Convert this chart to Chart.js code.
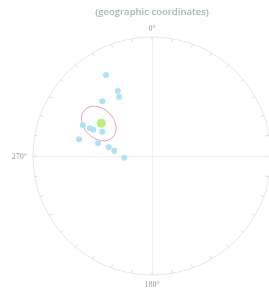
<!DOCTYPE html>
<html>
<head>
<meta charset="utf-8">
<script src="https://cdn.jsdelivr.net/npm/chart.js@4"></script>
<style>
  html, body { margin: 0; padding: 0; overflow: hidden; background: #fff; }
  #wrap { width: 280px; height: 293px; }
</style>
</head>
<body>
<div id="wrap"><canvas id="stereo" width="280" height="293"></canvas></div>
<script>
// directions, projected onto the unit circle (x = east, y = north)
const dirX = [-0.387, -0.288, -0.277, -0.418, -0.582, -0.521, -0.493, -0.418, -0.613, -0.454, -0.364, -0.317, -0.233];
const dirY = [0.681, 0.546, 0.496, 0.460, 0.261, 0.233, 0.221, 0.204, 0.140, 0.107, 0.073, 0.045, -0.014];
const meanX = [-0.426];
const meanY = [0.275];
// confidence ellipse: centre, semi axes (unit radius), tilt in degrees
const coneCentre = [-0.447, 0.273];
const coneAxes = [0.165, 0.124];
const coneTilt = 45;
const dirLabels = ['0°', '180°', '270°'];

const toPoints = function (xs, ys) {
  return xs.map((x, i) => ({ x: x, y: ys[i] }));
};

// net frame: circle, cross, 10 degree ticks, cone and labels
const net = {
  id: 'net',
  beforeDatasetsDraw(chart) {
    const { ctx, scales: { x, y } } = chart;
    const cx = x.getPixelForValue(0);
    const cy = y.getPixelForValue(0);
    const r = x.getPixelForValue(1) - cx;
    ctx.save();
    ctx.lineWidth = 1;
    ctx.strokeStyle = '#efefef';
    ctx.beginPath();
    ctx.moveTo(cx - r, cy + 0.5);
    ctx.lineTo(cx + r, cy + 0.5);
    ctx.moveTo(cx + 0.5, cy - r);
    ctx.lineTo(cx + 0.5, cy + r);
    ctx.stroke();

    ctx.strokeStyle = '#dbeaf1';
    ctx.beginPath();
    ctx.arc(cx, cy, r, 0, Math.PI * 2);
    ctx.stroke();

    ctx.strokeStyle = '#dedede';
    ctx.beginPath();
    for (let a = 0; a < 360; a += 10) {
      const t = a * Math.PI / 180;
      ctx.moveTo(cx + Math.sin(t) * r, cy - Math.cos(t) * r);
      ctx.lineTo(cx + Math.sin(t) * (r - 3.5), cy - Math.cos(t) * (r - 3.5));
    }
    ctx.stroke();

    // cone of confidence
    const ex = x.getPixelForValue(coneCentre[0]);
    const ey = y.getPixelForValue(coneCentre[1]);
    ctx.strokeStyle = '#e692b6';
    ctx.lineWidth = 0.9;
    ctx.beginPath();
    ctx.ellipse(ex, ey, coneAxes[0] * r, coneAxes[1] * r, coneTilt * Math.PI / 180, 0, Math.PI * 2);
    ctx.stroke();

    ctx.fillStyle = '#9a9a9a';
    ctx.font = '8px "Liberation Serif"';
    ctx.textAlign = 'center';
    ctx.textBaseline = 'middle';
    ctx.fillText(dirLabels[0], cx, cy - r - 8);
    ctx.fillText(dirLabels[1], cx, cy + r + 10);
    ctx.textAlign = 'right';
    ctx.fillText(dirLabels[2], cx - r - 6, cy + 1);

    ctx.textAlign = 'center';
    ctx.fillStyle = '#9dbdac';
    ctx.font = '600 9.5px "Open Sans"';
    ctx.fillText('(geographic coordinates)', cx, 12);
    ctx.fillStyle = '#444';
    ctx.font = 'bold 13px "Open Sans"';
    ctx.textBaseline = 'alphabetic';
    ctx.fillText('Stereographic projection', cx, -3);
    ctx.restore();
  },
};

const config = {
  type: 'scatter',
  data: {
    datasets: [
      {
        label: 'mean',
        data: toPoints(meanX, meanY),
        backgroundColor: '#b8f07e',
        borderWidth: 0,
        pointRadius: 4.5,
      },
      {
        label: 'directions',
        data: toPoints(dirX, dirY),
        backgroundColor: '#b1e1f6',
        borderWidth: 0,
        pointRadius: 3,
      },
    ],
  },
  options: {
    responsive: false,
    animation: false,
    layout: { padding: { left: 33, right: 9, top: 37, bottom: 18 } },
    scales: {
      x: { type: 'linear', min: -1, max: 1, display: false },
      y: { type: 'linear', min: -1, max: 1, display: false },
    },
    plugins: {
      legend: { display: false },
      tooltip: { enabled: false },
    },
  },
  plugins: [net],
};

const myChart = new Chart(document.getElementById('stereo'), config);
</script>
</body>
</html>
